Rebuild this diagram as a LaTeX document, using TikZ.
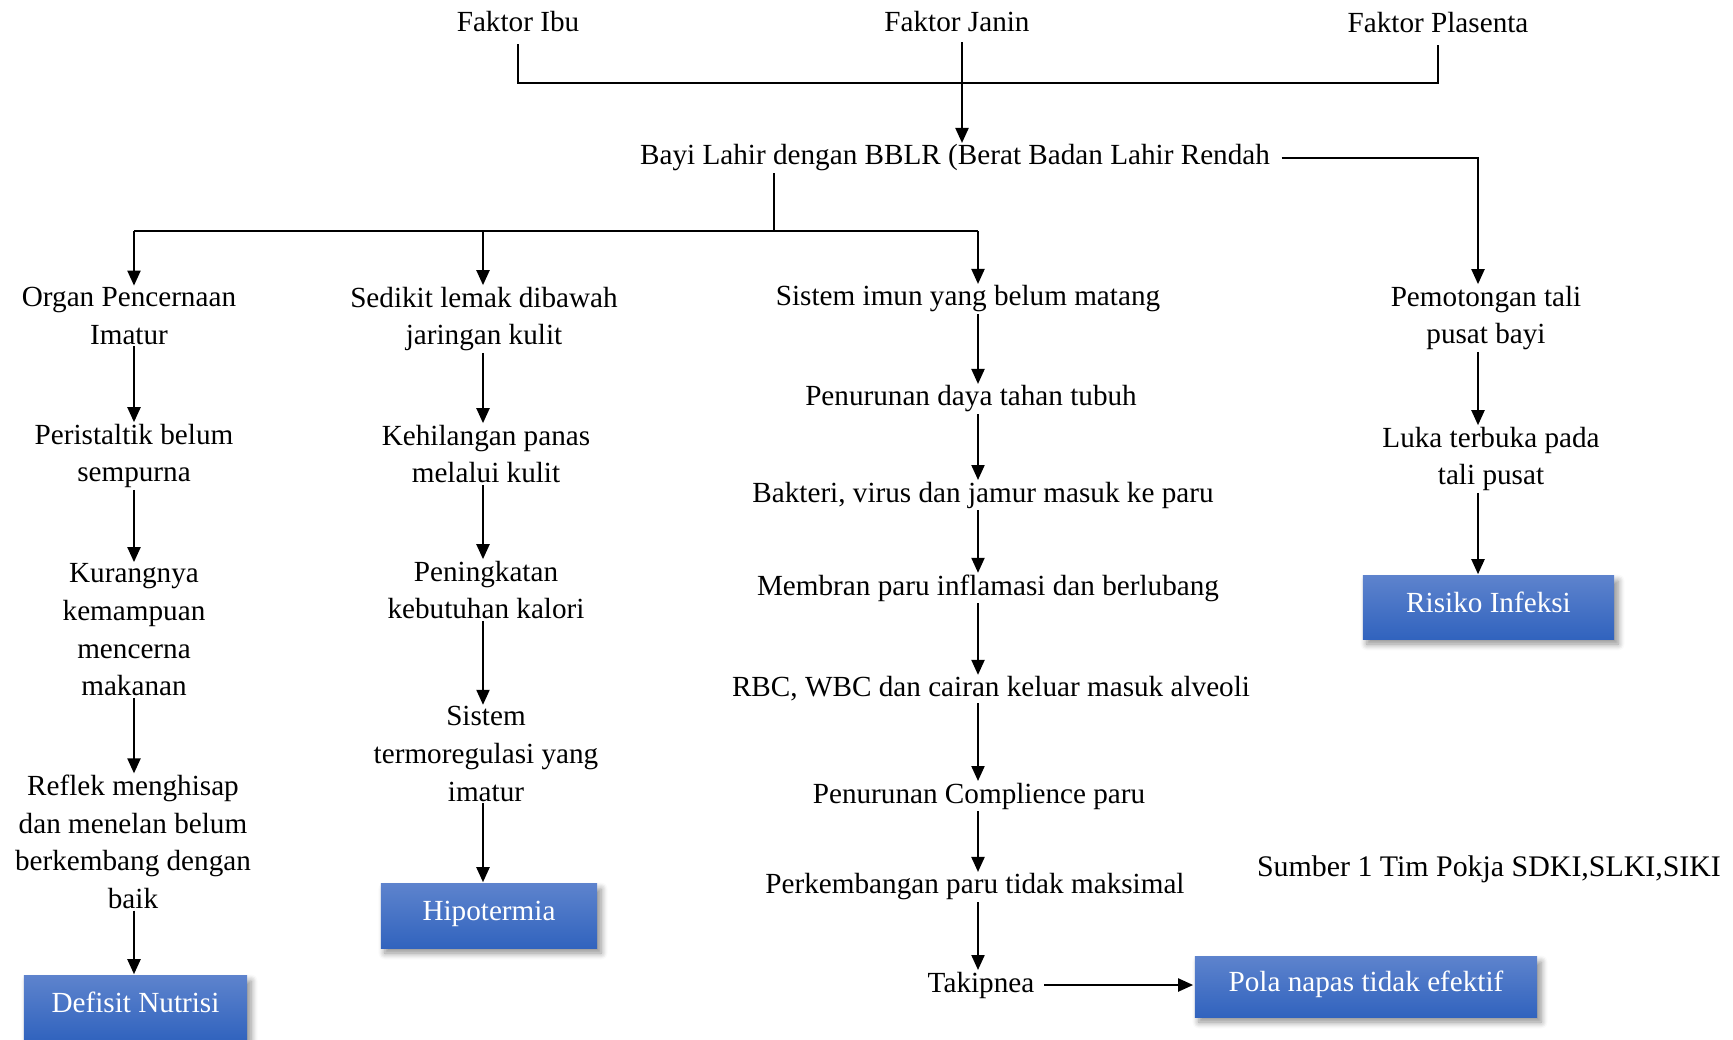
\documentclass[tikz,border=0pt]{standalone}
\usepackage{fontspec}
\setmainfont{Liberation Serif}
\usetikzlibrary{arrows.meta,shadows.blur}

\definecolor{biruatas}{RGB}{93,131,205}
\definecolor{birubawah}{RGB}{49,99,190}

\tikzset{
    teks/.style={inner sep=0pt, outer sep=0.5pt, align=center,
        font=\fontsize{8.3pt}{10.7pt}\selectfont},
    masalah/.style={teks, text=white, top color=biruatas, bottom color=birubawah,
        text height=0.2cm, text depth=0.105cm,
        blur shadow={shadow xshift=0.04cm, shadow yshift=-0.05cm,
            shadow blur steps=6, shadow opacity=45}},
    garis/.style={line width=0.6pt},
    panah/.style={garis, -{Triangle[width=0.13cm,length=0.15cm]}},
}

\begin{document}
\begin{tikzpicture}[x=0.01cm, y=-0.01cm]
    \useasboundingbox (0,0) rectangle (1733,1039);

    \coordinate (col1) at (134,0);
    \coordinate (col2) at (483,0);
    \coordinate (col3) at (978,0);
    \coordinate (col4) at (1478,0);
    \coordinate (gabung) at (957,83);
    \coordinate (split) at (774,231);

    \node [teks] (ibu) at (518,22) {Faktor Ibu};
    \node [teks] (janin) at (957,22) {Faktor Janin};
    \node [teks] (plasenta) at (1438,23) {Faktor Plasenta};
    \node [teks] (bblr) at (955,158) {Bayi Lahir dengan BBLR (Berat Badan Lahir Rendah};

    \node [teks] (organ) at (129,316) {Organ Pencernaan\\Imatur};
    \node [teks] (peristaltik) at (134,456) {Peristaltik belum\\sempurna};
    \node [teks] (kurang) at (134,630) {Kurangnya\\kemampuan\\mencerna\\makanan};
    \node [teks] (reflek) at (133,842) {Reflek menghisap\\dan menelan belum\\berkembang dengan\\baik};
    \node [masalah, minimum width=2.23cm, minimum height=0.64cm] (defisit) at (135.5,1008) {Defisit Nutrisi};

    \node [teks] (lemak) at (484,319) {Sedikit lemak dibawah\\jaringan kulit};
    \node [teks] (kehilangan) at (486,454) {Kehilangan panas\\melalui kulit};
    \node [teks] (peningkatan) at (486,590) {Peningkatan\\kebutuhan kalori};
    \node [teks] (termo) at (486,754) {Sistem\\termoregulasi yang\\imatur};
    \node [masalah, minimum width=2.16cm, minimum height=0.64cm] (hipotermia) at (489,916) {Hipotermia};

    \node [teks] (imun) at (968,299) {Sistem imun yang belum matang};
    \node [teks] (daya) at (971,399) {Penurunan daya tahan tubuh};
    \node [teks] (bakteri) at (983,495) {Bakteri, virus dan jamur masuk ke paru};
    \node [teks] (membran) at (988,588) {Membran paru inflamasi dan berlubang};
    \node [teks] (rbc) at (991,689) {RBC, WBC dan cairan keluar masuk alveoli};
    \node [teks] (complience) at (979,796) {Penurunan Complience paru};
    \node [teks] (perkembangan) at (975,887) {Perkembangan paru tidak maksimal};
    \node [teks] (takipnea) at (981,985) {Takipnea};
    \node [masalah, minimum width=3.42cm, minimum height=0.60cm] (pola) at (1366,987) {Pola napas tidak efektif};

    \node [teks] (pemotongan) at (1486,318) {Pemotongan tali\\pusat bayi};
    \node [teks] (luka) at (1491,459) {Luka terbuka pada\\tali pusat};
    \node [masalah, minimum width=2.51cm, minimum height=0.63cm] (risiko) at (1488.5,607.5) {Risiko Infeksi};

    \node [teks, font=\fontsize{8.5pt}{10.7pt}\selectfont] (sumber) at (1489,869) {Sumber 1 Tim Pokja SDKI,SLKI,SIKI};

    \draw [garis]
        ([yshift=-0.1cm]ibu.south)
        |- (gabung)
        -| ([yshift=-0.1cm]plasenta.south)
        ;
    \draw [panah] ([xshift=0.05cm,yshift=-0.08cm]janin.south) -- ([xshift=0.05cm]janin.south |- bblr.north);
    \draw [panah] ([xshift=0.1cm]bblr.east) -| (col4 |- pemotongan.north);

    \draw [garis] (split |- bblr.south) -- (split);
    \draw [garis] (col1 |- split) -- (col3 |- split);
    \draw [panah] (col1 |- split) -- (col1 |- organ.north);
    \draw [panah] (col2 |- split) -- (col2 |- lemak.north);
    \draw [panah] (col3 |- split) -- (col3 |- imun.north);

    \draw [panah] (col1 |- organ.south) -- (col1 |- peristaltik.north);
    \draw [panah] (col1 |- peristaltik.south) -- (col1 |- kurang.north);
    \draw [panah] (col1 |- kurang.south) -- (col1 |- reflek.north);
    \draw [panah] (col1 |- reflek.south) -- (col1 |- defisit.north);

    \draw [panah] (col2 |- lemak.south) -- (col2 |- kehilangan.north);
    \draw [panah] (col2 |- kehilangan.south) -- (col2 |- peningkatan.north);
    \draw [panah] (col2 |- peningkatan.south) -- (col2 |- termo.north);
    \draw [panah] (col2 |- termo.south) -- (col2 |- hipotermia.north);

    \draw [panah] (col3 |- imun.south) -- (col3 |- daya.north);
    \draw [panah] (col3 |- daya.south) -- (col3 |- bakteri.north);
    \draw [panah] (col3 |- bakteri.south) -- (col3 |- membran.north);
    \draw [panah] (col3 |- membran.south) -- (col3 |- rbc.north);
    \draw [panah] (col3 |- rbc.south) -- (col3 |- complience.north);
    \draw [panah] (col3 |- complience.south) -- (col3 |- perkembangan.north);
    \draw [panah] (col3 |- perkembangan.south) -- (col3 |- takipnea.north);
    \draw [panah] ([xshift=0.08cm]takipnea.east) -- (takipnea.east -| pola.west);

    \draw [panah] (col4 |- pemotongan.south) -- (col4 |- luka.north);
    \draw [panah] (col4 |- luka.south) -- (col4 |- risiko.north);
\end{tikzpicture}
\end{document}
